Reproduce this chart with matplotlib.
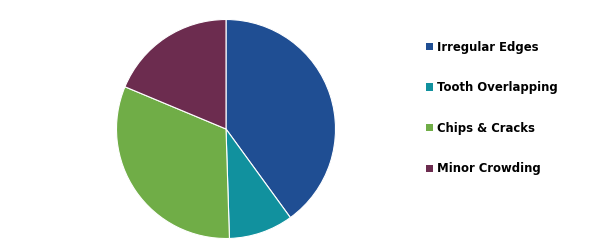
import matplotlib
matplotlib.use("Agg")
import matplotlib.pyplot as plt
from matplotlib.patches import Patch

categories = ["Irregular Edges", "Tooth Overlapping", "Chips & Cracks", "Minor Crowding"]
values = [40.0, 9.5, 31.8, 18.7]
colors = ["#1F4E93", "#11919E", "#70AD47", "#6C2C4F"]

fig = plt.figure(figsize=(6.10, 2.48), dpi=100)
# pie axes: center (226,129), radius ~109 px
r = 109.5
cx, cy = 226, 129
W, H = 610, 248
ax = fig.add_axes([(cx - r) / W, 1 - (cy + r) / H, 2 * r / W, 2 * r / H])
ax.pie(values, colors=colors, startangle=90, counterclock=False,
       wedgeprops=dict(edgecolor="white", linewidth=0.8), radius=1.0)
ax.set_xlim(-1, 1)
ax.set_ylim(-1, 1)
ax.set_aspect("equal")
ax.axis("off")

handles = [Patch(facecolor=c, edgecolor="none") for c in colors]
leg = fig.legend(handles, categories, loc="upper left",
                 bbox_to_anchor=(415 / W, 1 - 30 / H),
                 frameon=False, handlelength=0.6, handleheight=0.6,
                 handletextpad=0.35, labelspacing=2.37,
                 prop=dict(family="DejaVu Sans", weight="bold", size=8.4))

fig.savefig("out.png", dpi=100, facecolor="white")
